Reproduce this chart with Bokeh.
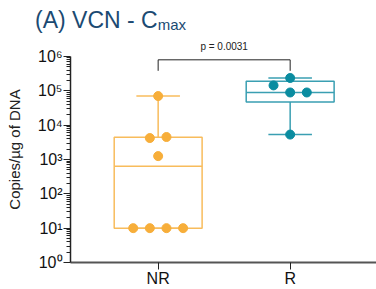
import numpy as np
from bokeh.plotting import figure
from bokeh.layouts import column
from bokeh.models import FixedTicker, Label, Div
from bokeh.embed import file_html
from bokeh.resources import INLINE

# ---------------- data ----------------
groups = ["NR", "R"]
nr_values = [10, 10, 10, 10, 1250, 4200, 4500, 70000]
r_values = [5300, 89000, 89000, 143000, 235000]
decades = [0, 1, 2, 3, 4, 5, 6]
title_main = "(A) VCN - C"
title_sub = "max"
y_label = "Copies/µg of DNA"
p_text = "p = 0.0031"

point_colors = ["#F7AE3A", "#0A8CA0"]
line_colors = ["#F8BC5C", "#3A9FB2"]
FONT = "Liberation Sans"
TITLE_COLOR = "#1B4A72"

sup = str.maketrans("0123456789", "⁰¹²³⁴⁵⁶⁷⁸⁹")
tick_vals = [10 ** d for d in decades]
tick_labels = {10 ** d: "10" + str(d).translate(sup) for d in decades}
minor_vals = [m * 10 ** d for d in decades[:-1] for m in range(2, 10)]


def swarm(vals, slot=0.126, coll=0.24, tol=0.05):
    logs = np.log10(np.array(vals, dtype=float))
    n = len(logs)
    slots = np.zeros(n)
    placed = []
    for i in np.argsort(logs, kind="stable"):
        for s in [0, 1, -1, 2, -2, 3, -3]:
            if all(not (ps == s and abs(logs[i] - pl) < coll) for pl, ps in placed):
                break
        slots[i] = s
        placed.append((logs[i], s))
    done = set()
    for i in range(n):
        if i in done:
            continue
        row = [j for j in range(n) if abs(logs[j] - logs[i]) < tol]
        done.update(row)
        others = [j for j in range(n) if j not in row]
        isolated = all(abs(logs[j] - logs[k]) >= coll for j in others for k in row)
        if isolated:
            slots[row] -= slots[row].mean()
    return slots * slot


title_div = Div(
    text=(f'<div style="font-family:\'{FONT}\';font-size:23px;line-height:1;color:{TITLE_COLOR};'
          f'padding:9px 0 0 35px;white-space:nowrap;">{title_main}'
          f'<span style="font-size:15px;position:relative;top:2px;">{title_sub}</span></div>'),
    width=376, height=36, margin=0)

p = figure(width=376, height=253, x_range=(-0.664, 1.654), y_range=(1, 10 ** 6.579),
           y_axis_type="log", output_backend="svg", toolbar_location=None,
           min_border_left=70, min_border_right=0, min_border_top=0, min_border_bottom=0)
p.outline_line_color = None
p.grid.visible = False

half_box = 0.333
half_cap = 0.165
for gi, vals in enumerate([nr_values, r_values]):
    arr = np.array(vals, dtype=float)
    q1, med, q3 = np.percentile(arr, [25, 50, 75], method="weibull")
    lo, hi = arr.min(), arr.max()
    lc = line_colors[gi]
    p.segment(x0=[gi, gi], y0=[q3, q1], x1=[gi, gi], y1=[hi, lo], line_color=lc, line_width=1.5)
    p.segment(x0=[gi - half_cap, gi - half_cap], y0=[hi, lo], x1=[gi + half_cap, gi + half_cap],
              y1=[hi, lo], line_color=lc, line_width=1.5)
    p.quad(left=[gi - half_box], right=[gi + half_box], bottom=[q1], top=[q3],
           fill_color=None, line_color=lc, line_width=1.5)
    p.segment(x0=[gi - half_box], y0=[med], x1=[gi + half_box], y1=[med], line_color=lc, line_width=1.5)
    xs = gi + swarm(vals)
    p.scatter(x=xs, y=arr, size=9, fill_color=point_colors[gi], line_color=point_colors[gi])

# significance bracket
b_top = 10 ** 5.9
b_drop = 10 ** 5.58
p.line(x=[0, 0, 1, 1], y=[b_drop, b_top, b_top, b_drop], line_color="#222222", line_width=1)
p.add_layout(Label(x=0.5, y=10 ** 6.29, text=p_text, text_align="center", text_baseline="middle",
                   text_font=FONT, text_font_size="10px", text_color="#222222"))

# y axis
ya = p.yaxis[0]
ya.ticker = FixedTicker(ticks=tick_vals, minor_ticks=minor_vals)
ya.bounds = (1, 1e6)
ya.major_label_overrides = tick_labels
ya.major_label_text_font = FONT
ya.major_label_text_font_size = "16px"
ya.major_label_text_color = "#111111"
ya.major_label_standoff = 1
ya.major_tick_out = 7
ya.major_tick_in = 0
ya.minor_tick_out = 4
ya.minor_tick_in = 0
ya.axis_line_color = "#222222"
ya.major_tick_line_color = "#222222"
ya.minor_tick_line_color = "#222222"
ya.axis_line_width = 1.5
ya.axis_label = y_label
ya.axis_label_text_font = FONT
ya.axis_label_text_font_size = "15px"
ya.axis_label_text_font_style = "normal"
ya.axis_label_text_color = "#222222"
ya.axis_label_standoff = 12

# x axis
xa = p.xaxis[0]
xa.ticker = FixedTicker(ticks=[0, 1])
xa.major_label_overrides = {i: g for i, g in enumerate(groups)}
xa.major_label_text_font = FONT
xa.major_label_text_font_size = "16px"
xa.major_label_text_color = "#111111"
xa.major_label_standoff = 0
xa.major_tick_out = 7
xa.major_tick_in = 0
xa.minor_tick_line_color = None
xa.axis_line_color = "#555555"
xa.major_tick_line_color = "#222222"
xa.axis_line_width = 2

layout = column(title_div, p, spacing=0)
open("out.html", "w").write(file_html(layout, INLINE))
